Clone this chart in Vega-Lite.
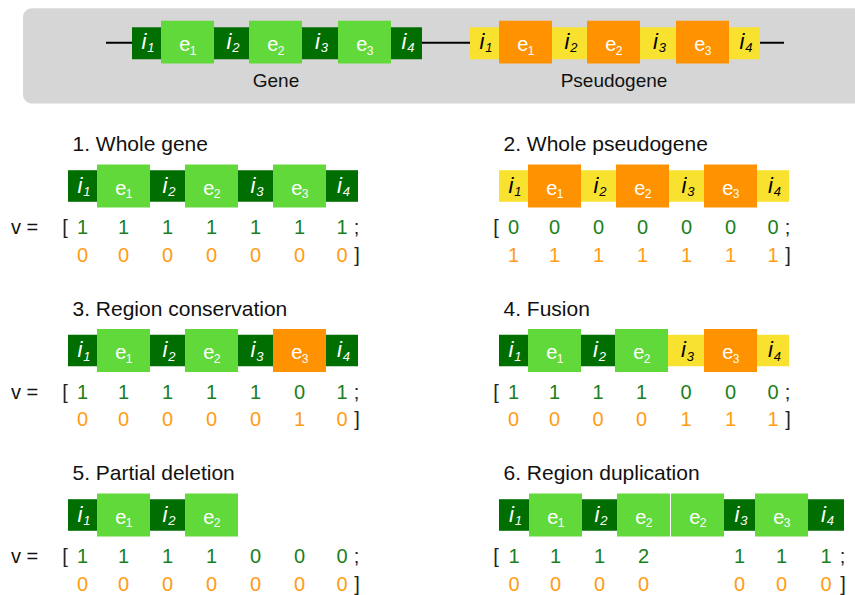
{
  "$schema": "https://vega.github.io/schema/vega-lite/v6.json",
  "padding": 0,
  "background": "white",
  "config": {"font": "Liberation Sans", "view": {"stroke": null}, "header": {"labels": false, "title": null, "labelExpr": "''"}},
  "datasets": {
    "banner": [
      {"locus": "Gene", "seg": "i1", "letter": "i", "sub": "1", "kind": "intron", "src": "gene", "start": 0, "end": 29},
      {"locus": "Gene", "seg": "e1", "letter": "e", "sub": "1", "kind": "exon", "src": "gene", "start": 29, "end": 82},
      {"locus": "Gene", "seg": "i2", "letter": "i", "sub": "2", "kind": "intron", "src": "gene", "start": 82, "end": 117},
      {"locus": "Gene", "seg": "e2", "letter": "e", "sub": "2", "kind": "exon", "src": "gene", "start": 117, "end": 170},
      {"locus": "Gene", "seg": "i3", "letter": "i", "sub": "3", "kind": "intron", "src": "gene", "start": 170, "end": 206},
      {"locus": "Gene", "seg": "e3", "letter": "e", "sub": "3", "kind": "exon", "src": "gene", "start": 206, "end": 259},
      {"locus": "Gene", "seg": "i4", "letter": "i", "sub": "4", "kind": "intron", "src": "gene", "start": 259, "end": 290},
      {"locus": "Pseudogene", "seg": "i1", "letter": "i", "sub": "1", "kind": "intron", "src": "pseudo", "start": 338, "end": 367},
      {"locus": "Pseudogene", "seg": "e1", "letter": "e", "sub": "1", "kind": "exon", "src": "pseudo", "start": 367, "end": 420},
      {"locus": "Pseudogene", "seg": "i2", "letter": "i", "sub": "2", "kind": "intron", "src": "pseudo", "start": 420, "end": 455},
      {"locus": "Pseudogene", "seg": "e2", "letter": "e", "sub": "2", "kind": "exon", "src": "pseudo", "start": 455, "end": 508},
      {"locus": "Pseudogene", "seg": "i3", "letter": "i", "sub": "3", "kind": "intron", "src": "pseudo", "start": 508, "end": 544},
      {"locus": "Pseudogene", "seg": "e3", "letter": "e", "sub": "3", "kind": "exon", "src": "pseudo", "start": 544, "end": 597},
      {"locus": "Pseudogene", "seg": "i4", "letter": "i", "sub": "4", "kind": "intron", "src": "pseudo", "start": 597, "end": 628}
    ],
    "panels": [
      {"id": 1, "title": "1. Whole gene", "seg": "i1", "letter": "i", "sub": "1", "kind": "intron", "src": "gene", "present": true, "start": 0, "end": 29, "g": 1, "p": 0},
      {"id": 1, "title": "1. Whole gene", "seg": "e1", "letter": "e", "sub": "1", "kind": "exon", "src": "gene", "present": true, "start": 29, "end": 82, "g": 1, "p": 0},
      {"id": 1, "title": "1. Whole gene", "seg": "i2", "letter": "i", "sub": "2", "kind": "intron", "src": "gene", "present": true, "start": 82, "end": 117, "g": 1, "p": 0},
      {"id": 1, "title": "1. Whole gene", "seg": "e2", "letter": "e", "sub": "2", "kind": "exon", "src": "gene", "present": true, "start": 117, "end": 170, "g": 1, "p": 0},
      {"id": 1, "title": "1. Whole gene", "seg": "i3", "letter": "i", "sub": "3", "kind": "intron", "src": "gene", "present": true, "start": 170, "end": 205, "g": 1, "p": 0},
      {"id": 1, "title": "1. Whole gene", "seg": "e3", "letter": "e", "sub": "3", "kind": "exon", "src": "gene", "present": true, "start": 205, "end": 258, "g": 1, "p": 0},
      {"id": 1, "title": "1. Whole gene", "seg": "i4", "letter": "i", "sub": "4", "kind": "intron", "src": "gene", "present": true, "start": 258, "end": 290, "g": 1, "p": 0},

      {"id": 2, "title": "2. Whole pseudogene", "seg": "i1", "letter": "i", "sub": "1", "kind": "intron", "src": "pseudo", "present": true, "start": 0, "end": 29, "g": 0, "p": 1},
      {"id": 2, "title": "2. Whole pseudogene", "seg": "e1", "letter": "e", "sub": "1", "kind": "exon", "src": "pseudo", "present": true, "start": 29, "end": 82, "g": 0, "p": 1},
      {"id": 2, "title": "2. Whole pseudogene", "seg": "i2", "letter": "i", "sub": "2", "kind": "intron", "src": "pseudo", "present": true, "start": 82, "end": 117, "g": 0, "p": 1},
      {"id": 2, "title": "2. Whole pseudogene", "seg": "e2", "letter": "e", "sub": "2", "kind": "exon", "src": "pseudo", "present": true, "start": 117, "end": 170, "g": 0, "p": 1},
      {"id": 2, "title": "2. Whole pseudogene", "seg": "i3", "letter": "i", "sub": "3", "kind": "intron", "src": "pseudo", "present": true, "start": 170, "end": 205, "g": 0, "p": 1},
      {"id": 2, "title": "2. Whole pseudogene", "seg": "e3", "letter": "e", "sub": "3", "kind": "exon", "src": "pseudo", "present": true, "start": 205, "end": 258, "g": 0, "p": 1},
      {"id": 2, "title": "2. Whole pseudogene", "seg": "i4", "letter": "i", "sub": "4", "kind": "intron", "src": "pseudo", "present": true, "start": 258, "end": 290, "g": 0, "p": 1},

      {"id": 3, "title": "3. Region conservation", "seg": "i1", "letter": "i", "sub": "1", "kind": "intron", "src": "gene", "present": true, "start": 0, "end": 29, "g": 1, "p": 0},
      {"id": 3, "title": "3. Region conservation", "seg": "e1", "letter": "e", "sub": "1", "kind": "exon", "src": "gene", "present": true, "start": 29, "end": 82, "g": 1, "p": 0},
      {"id": 3, "title": "3. Region conservation", "seg": "i2", "letter": "i", "sub": "2", "kind": "intron", "src": "gene", "present": true, "start": 82, "end": 117, "g": 1, "p": 0},
      {"id": 3, "title": "3. Region conservation", "seg": "e2", "letter": "e", "sub": "2", "kind": "exon", "src": "gene", "present": true, "start": 117, "end": 170, "g": 1, "p": 0},
      {"id": 3, "title": "3. Region conservation", "seg": "i3", "letter": "i", "sub": "3", "kind": "intron", "src": "gene", "present": true, "start": 170, "end": 205, "g": 1, "p": 0},
      {"id": 3, "title": "3. Region conservation", "seg": "e3", "letter": "e", "sub": "3", "kind": "exon", "src": "pseudo", "present": true, "start": 205, "end": 258, "g": 0, "p": 1},
      {"id": 3, "title": "3. Region conservation", "seg": "i4", "letter": "i", "sub": "4", "kind": "intron", "src": "gene", "present": true, "start": 258, "end": 290, "g": 1, "p": 0},

      {"id": 4, "title": "4. Fusion", "seg": "i1", "letter": "i", "sub": "1", "kind": "intron", "src": "gene", "present": true, "start": 0, "end": 29, "g": 1, "p": 0},
      {"id": 4, "title": "4. Fusion", "seg": "e1", "letter": "e", "sub": "1", "kind": "exon", "src": "gene", "present": true, "start": 29, "end": 82, "g": 1, "p": 0},
      {"id": 4, "title": "4. Fusion", "seg": "i2", "letter": "i", "sub": "2", "kind": "intron", "src": "gene", "present": true, "start": 82, "end": 116, "g": 1, "p": 0},
      {"id": 4, "title": "4. Fusion", "seg": "e2", "letter": "e", "sub": "2", "kind": "exon", "src": "gene", "present": true, "start": 116, "end": 169, "g": 1, "p": 0},
      {"id": 4, "title": "4. Fusion", "seg": "i3", "letter": "i", "sub": "3", "kind": "intron", "src": "pseudo", "present": true, "start": 169, "end": 205, "g": 0, "p": 1},
      {"id": 4, "title": "4. Fusion", "seg": "e3", "letter": "e", "sub": "3", "kind": "exon", "src": "pseudo", "present": true, "start": 205, "end": 258, "g": 0, "p": 1},
      {"id": 4, "title": "4. Fusion", "seg": "i4", "letter": "i", "sub": "4", "kind": "intron", "src": "pseudo", "present": true, "start": 258, "end": 290, "g": 0, "p": 1},

      {"id": 5, "title": "5. Partial deletion", "seg": "i1", "letter": "i", "sub": "1", "kind": "intron", "src": "gene", "present": true, "start": 0, "end": 29, "g": 1, "p": 0},
      {"id": 5, "title": "5. Partial deletion", "seg": "e1", "letter": "e", "sub": "1", "kind": "exon", "src": "gene", "present": true, "start": 29, "end": 82, "g": 1, "p": 0},
      {"id": 5, "title": "5. Partial deletion", "seg": "i2", "letter": "i", "sub": "2", "kind": "intron", "src": "gene", "present": true, "start": 82, "end": 117, "g": 1, "p": 0},
      {"id": 5, "title": "5. Partial deletion", "seg": "e2", "letter": "e", "sub": "2", "kind": "exon", "src": "gene", "present": true, "start": 117, "end": 170, "g": 1, "p": 0},
      {"id": 5, "title": "5. Partial deletion", "seg": "i3", "letter": "i", "sub": "3", "kind": "intron", "src": "gene", "present": false, "start": 170, "end": 205, "g": 0, "p": 0},
      {"id": 5, "title": "5. Partial deletion", "seg": "e3", "letter": "e", "sub": "3", "kind": "exon", "src": "gene", "present": false, "start": 205, "end": 258, "g": 0, "p": 0},
      {"id": 5, "title": "5. Partial deletion", "seg": "i4", "letter": "i", "sub": "4", "kind": "intron", "src": "gene", "present": false, "start": 258, "end": 290, "g": 0, "p": 0},

      {"id": 6, "title": "6. Region duplication", "seg": "i1", "letter": "i", "sub": "1", "kind": "intron", "src": "gene", "present": true, "start": 0, "end": 30, "g": 1, "p": 0},
      {"id": 6, "title": "6. Region duplication", "seg": "e1", "letter": "e", "sub": "1", "kind": "exon", "src": "gene", "present": true, "start": 30, "end": 83, "g": 1, "p": 0},
      {"id": 6, "title": "6. Region duplication", "seg": "i2", "letter": "i", "sub": "2", "kind": "intron", "src": "gene", "present": true, "start": 83, "end": 118, "g": 1, "p": 0},
      {"id": 6, "title": "6. Region duplication", "seg": "e2", "letter": "e", "sub": "2", "kind": "exon", "src": "gene", "present": true, "start": 118, "end": 171, "g": 2, "p": 0},
      {"id": 6, "title": "6. Region duplication", "seg": "e2b", "letter": "e", "sub": "2", "kind": "exon", "src": "gene", "present": true, "start": 172, "end": 225, "g": null, "p": null},
      {"id": 6, "title": "6. Region duplication", "seg": "i3", "letter": "i", "sub": "3", "kind": "intron", "src": "gene", "present": true, "start": 225, "end": 256, "g": 1, "p": 0},
      {"id": 6, "title": "6. Region duplication", "seg": "e3", "letter": "e", "sub": "3", "kind": "exon", "src": "gene", "present": true, "start": 256, "end": 309, "g": 1, "p": 0},
      {"id": 6, "title": "6. Region duplication", "seg": "i4", "letter": "i", "sub": "4", "kind": "intron", "src": "gene", "present": true, "start": 309, "end": 345, "g": 1, "p": 0}
    ]
  },
  "spacing": 9,
  "bounds": "flush",
  "vconcat": [
    {
      "width": 855,
      "height": 104,
      "data": {"name": "banner"},
      "layer": [
        {
          "transform": [{"filter": "datum.locus == 'Gene' && datum.seg == 'i1'"}],
          "mark": {"type": "rect", "cornerRadius": 9, "clip": true, "color": "#d6d6d6"},
          "encoding": {
            "x": {"datum": -109, "type": "quantitative", "scale": {"domain": [-132, 723], "nice": false, "zero": false}, "axis": null},
            "x2": {"datum": 745},
            "y": {"datum": 8.3, "type": "quantitative", "scale": {"domain": [0, 104], "reverse": true, "nice": false, "zero": false}, "axis": null},
            "y2": {"datum": 103.4}
          }
        },
        {
          "transform": [{"filter": "datum.locus == 'Gene' && datum.seg == 'i1'"}],
          "mark": {"type": "rule", "color": "black", "strokeWidth": 2},
          "encoding": {
            "x": {"datum": -26, "type": "quantitative"},
            "x2": {"datum": 652},
            "y": {"datum": 42.7, "type": "quantitative"}
          }
        },
        {
          "transform": [{"filter": "datum.kind == 'intron'"}],
          "mark": {"type": "rect"},
          "encoding": {
            "x": {"field": "start", "type": "quantitative"},
            "x2": {"field": "end"},
            "y": {"datum": 27.2, "type": "quantitative"},
            "y2": {"datum": 59.2},
            "color": {"condition": {"test": "datum.src == 'gene'", "value": "#006e00"}, "value": "#f9e22f"}
          }
        },
        {
          "transform": [{"filter": "datum.kind == 'exon'"}],
          "mark": {"type": "rect"},
          "encoding": {
            "x": {"field": "start", "type": "quantitative"},
            "x2": {"field": "end"},
            "y": {"datum": 20.8, "type": "quantitative"},
            "y2": {"datum": 63.6},
            "color": {"condition": {"test": "datum.src == 'gene'", "value": "#62d93a"}, "value": "#ff9200"}
          }
        },
        {
          "transform": [
            {"fold": ["start", "end"], "as": ["k", "pos"]},
            {"aggregate": [{"op": "mean", "field": "pos", "as": "mid"}], "groupby": ["locus", "seg", "letter", "sub", "kind", "src"]}
          ],
          "layer": [
            {
              "transform": [{"filter": "datum.kind == 'exon'"}],
              "mark": {"type": "text", "align": "right", "baseline": "alphabetic", "dx": 2.8, "dy": 8.8, "fontSize": 20, "color": "white"},
              "encoding": {"x": {"field": "mid", "type": "quantitative"}, "y": {"datum": 42.2, "type": "quantitative"}, "text": {"field": "letter", "type": "nominal"}}
            },
            {
              "transform": [{"filter": "datum.kind == 'exon'"}],
              "mark": {"type": "text", "align": "left", "baseline": "alphabetic", "dx": 2.2, "dy": 12.4, "fontSize": 12, "color": "white"},
              "encoding": {"x": {"field": "mid", "type": "quantitative"}, "y": {"datum": 42.2, "type": "quantitative"}, "text": {"field": "sub", "type": "nominal"}}
            },
            {
              "transform": [{"filter": "datum.kind == 'intron'"}],
              "mark": {"type": "text", "align": "right", "baseline": "alphabetic", "fontStyle": "italic", "dx": 0, "dy": 6.5, "fontSize": 22},
              "encoding": {"x": {"field": "mid", "type": "quantitative"}, "y": {"datum": 42.2, "type": "quantitative"}, "text": {"field": "letter", "type": "nominal"}, "color": {"condition": {"test": "datum.src == 'gene'", "value": "white"}, "value": "black"}}
            },
            {
              "transform": [{"filter": "datum.kind == 'intron'"}],
              "mark": {"type": "text", "align": "left", "baseline": "alphabetic", "fontStyle": "italic", "dx": 0.8, "dy": 10.2, "fontSize": 13},
              "encoding": {"x": {"field": "mid", "type": "quantitative"}, "y": {"datum": 42.2, "type": "quantitative"}, "text": {"field": "sub", "type": "nominal"}, "color": {"condition": {"test": "datum.src == 'gene'", "value": "white"}, "value": "black"}}
            }
          ]
        },
        {
          "transform": [
            {"fold": ["start", "end"], "as": ["k", "pos"]},
            {"aggregate": [{"op": "mean", "field": "pos", "as": "mid"}], "groupby": ["locus"]}
          ],
          "mark": {"type": "text", "baseline": "alphabetic", "fontSize": 19, "color": "#111111"},
          "encoding": {"x": {"field": "mid", "type": "quantitative"}, "y": {"datum": 87.3, "type": "quantitative"}, "text": {"field": "locus", "type": "nominal"}}
        }
      ]
    },
    {
      "data": {"name": "panels"},
      "facet": {"field": "id", "type": "ordinal", "header": {"labels": false, "title": null, "labelExpr": "''"}},
      "columns": 2,
      "spacing": {"row": 12.5, "column": 8},
      "bounds": "flush",
      "spec": {
        "width": 423,
        "height": 152,
        "layer": [
          {
            "transform": [{"filter": "datum.present && datum.kind == 'intron'"}],
            "mark": {"type": "rect"},
            "encoding": {
              "x": {"field": "start", "type": "quantitative", "scale": {"domain": [-68, 355], "nice": false, "zero": false}, "axis": null},
              "x2": {"field": "end"},
              "y": {"datum": 57.2, "type": "quantitative", "scale": {"domain": [0, 152], "reverse": true, "nice": false, "zero": false}, "axis": null},
              "y2": {"datum": 88.8},
              "color": {"condition": {"test": "datum.src == 'gene'", "value": "#006e00"}, "value": "#f9e22f"}
            }
          },
          {
            "transform": [{"filter": "datum.present && datum.kind == 'exon'"}],
            "mark": {"type": "rect"},
            "encoding": {
              "x": {"field": "start", "type": "quantitative"},
              "x2": {"field": "end"},
              "y": {"datum": 51.6, "type": "quantitative"},
              "y2": {"datum": 94.4},
              "color": {"condition": {"test": "datum.src == 'gene'", "value": "#62d93a"}, "value": "#ff9200"}
            }
          },
          {
            "transform": [
              {"fold": ["start", "end"], "as": ["k", "pos"]},
              {"aggregate": [{"op": "mean", "field": "pos", "as": "mid"}], "groupby": ["id", "seg", "letter", "sub", "kind", "src", "present", "g", "p"]}
            ],
            "layer": [
              {
                "transform": [{"filter": "datum.present && datum.kind == 'exon'"}],
                "mark": {"type": "text", "align": "right", "baseline": "alphabetic", "dx": 2.8, "dy": 8.8, "fontSize": 20, "color": "white"},
                "encoding": {"x": {"field": "mid", "type": "quantitative"}, "y": {"datum": 73, "type": "quantitative"}, "text": {"field": "letter", "type": "nominal"}}
              },
              {
                "transform": [{"filter": "datum.present && datum.kind == 'exon'"}],
                "mark": {"type": "text", "align": "left", "baseline": "alphabetic", "dx": 2.2, "dy": 12.4, "fontSize": 12, "color": "white"},
                "encoding": {"x": {"field": "mid", "type": "quantitative"}, "y": {"datum": 73, "type": "quantitative"}, "text": {"field": "sub", "type": "nominal"}}
              },
              {
                "transform": [{"filter": "datum.present && datum.kind == 'intron'"}],
                "mark": {"type": "text", "align": "right", "baseline": "alphabetic", "fontStyle": "italic", "dx": 0, "dy": 6.5, "fontSize": 22},
                "encoding": {"x": {"field": "mid", "type": "quantitative"}, "y": {"datum": 73, "type": "quantitative"}, "text": {"field": "letter", "type": "nominal"}, "color": {"condition": {"test": "datum.src == 'gene'", "value": "white"}, "value": "black"}}
              },
              {
                "transform": [{"filter": "datum.present && datum.kind == 'intron'"}],
                "mark": {"type": "text", "align": "left", "baseline": "alphabetic", "fontStyle": "italic", "dx": 0.8, "dy": 10, "fontSize": 13},
                "encoding": {"x": {"field": "mid", "type": "quantitative"}, "y": {"datum": 73, "type": "quantitative"}, "text": {"field": "sub", "type": "nominal"}, "color": {"condition": {"test": "datum.src == 'gene'", "value": "white"}, "value": "black"}}
              },
              {
                "transform": [{"filter": "datum.g != null"}],
                "mark": {"type": "text", "baseline": "alphabetic", "fontSize": 20, "color": "#1b801b"},
                "encoding": {"x": {"field": "mid", "type": "quantitative"}, "y": {"datum": 121, "type": "quantitative"}, "text": {"field": "g", "type": "nominal"}}
              },
              {
                "transform": [{"filter": "datum.p != null"}],
                "mark": {"type": "text", "baseline": "alphabetic", "fontSize": 20, "color": "#ff9c14"},
                "encoding": {"x": {"field": "mid", "type": "quantitative"}, "y": {"datum": 148.7, "type": "quantitative"}, "text": {"field": "p", "type": "nominal"}}
              }
            ]
          },
          {
            "transform": [{"filter": "datum.seg == 'i1'"}],
            "mark": {"type": "text", "align": "left", "baseline": "alphabetic", "dx": 4.5, "fontSize": 21, "color": "#111111"},
            "encoding": {"x": {"field": "start", "type": "quantitative"}, "y": {"datum": 38, "type": "quantitative"}, "text": {"field": "title", "type": "nominal"}}
          },
          {
            "transform": [{"filter": "datum.seg == 'i1'"}],
            "mark": {"type": "text", "text": "[", "align": "center", "baseline": "alphabetic", "dx": -3, "fontSize": 20, "color": "#222222"},
            "encoding": {"x": {"field": "start", "type": "quantitative"}, "y": {"datum": 121, "type": "quantitative"}}
          },
          {
            "transform": [{"filter": "datum.seg == 'i1' && datum.id % 2 == 1"}],
            "mark": {"type": "text", "text": "v =", "align": "center", "baseline": "alphabetic", "dx": -43.5, "fontSize": 20, "color": "#111111"},
            "encoding": {"x": {"field": "start", "type": "quantitative"}, "y": {"datum": 121, "type": "quantitative"}}
          },
          {
            "transform": [{"filter": "datum.seg == 'i4'"}],
            "mark": {"type": "text", "text": ";", "align": "center", "baseline": "alphabetic", "dx": -1.5, "fontSize": 20, "color": "#222222"},
            "encoding": {"x": {"field": "end", "type": "quantitative"}, "y": {"datum": 121, "type": "quantitative"}}
          },
          {
            "transform": [{"filter": "datum.seg == 'i4'"}],
            "mark": {"type": "text", "text": "]", "align": "center", "baseline": "alphabetic", "dx": -1, "fontSize": 20, "color": "#222222"},
            "encoding": {"x": {"field": "end", "type": "quantitative"}, "y": {"datum": 148.7, "type": "quantitative"}}
          }
        ]
      }
    }
  ]
}
